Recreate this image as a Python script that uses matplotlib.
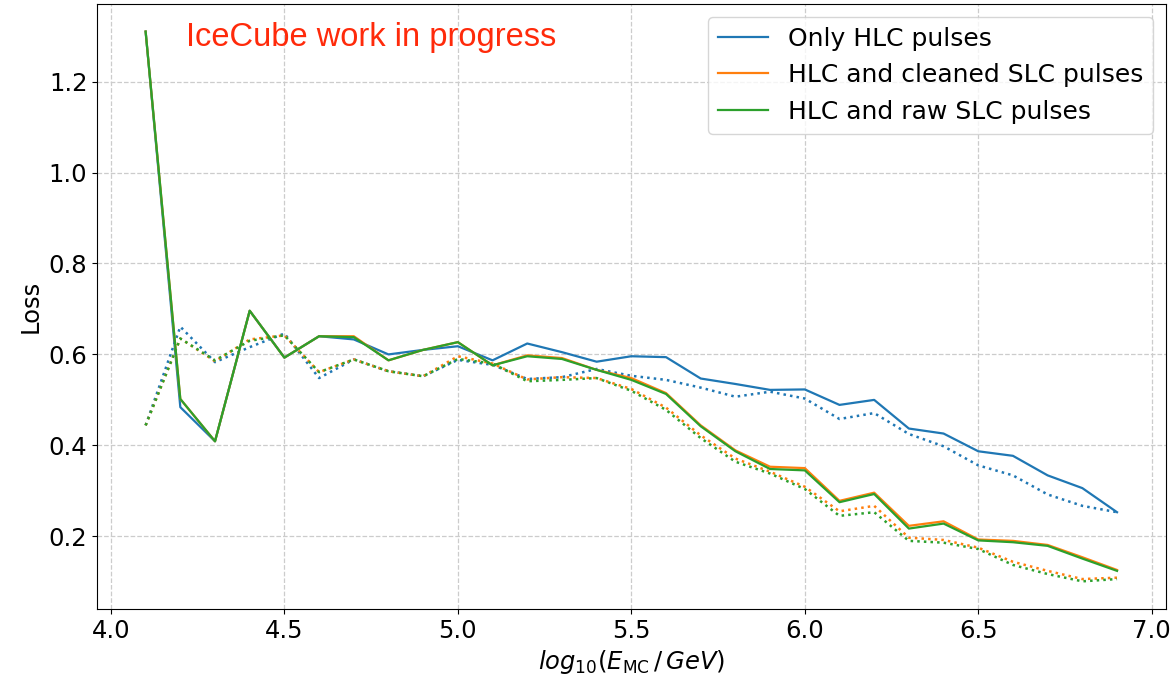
import numpy as np
import matplotlib.pyplot as plt

# energy bins, log10(E / GeV)
log_e = np.round(np.arange(4.1, 6.95, 0.1), 1)

# loss per bin, solid = validation, dotted = training
hlc_val = [1.31, 0.484, 0.409, 0.696, 0.593, 0.640, 0.633, 0.600, 0.610, 0.618,
           0.587, 0.624, 0.605, 0.584, 0.596, 0.594, 0.547, 0.535, 0.522, 0.523,
           0.489, 0.500, 0.437, 0.426, 0.387, 0.377, 0.334, 0.306, 0.253]
cleaned_val = [1.31, 0.502, 0.409, 0.696, 0.593, 0.640, 0.640, 0.587, 0.610, 0.627,
               0.576, 0.598, 0.592, 0.566, 0.548, 0.515, 0.444, 0.389, 0.353, 0.350,
               0.278, 0.296, 0.223, 0.233, 0.193, 0.190, 0.181, 0.154, 0.126]
raw_val = [1.31, 0.502, 0.409, 0.696, 0.593, 0.640, 0.638, 0.587, 0.610, 0.627,
           0.576, 0.596, 0.590, 0.566, 0.544, 0.513, 0.442, 0.387, 0.348, 0.345,
           0.275, 0.293, 0.217, 0.228, 0.191, 0.187, 0.179, 0.151, 0.124]

hlc_train = [0.444, 0.661, 0.583, 0.616, 0.646, 0.548, 0.589, 0.563, 0.552, 0.588,
             0.577, 0.546, 0.550, 0.568, 0.553, 0.544, 0.527, 0.507, 0.518, 0.503,
             0.458, 0.471, 0.425, 0.398, 0.356, 0.334, 0.292, 0.267, 0.253]
cleaned_train = [0.444, 0.635, 0.585, 0.633, 0.642, 0.561, 0.589, 0.563, 0.552, 0.596,
                 0.580, 0.545, 0.550, 0.548, 0.524, 0.483, 0.422, 0.371, 0.342, 0.309,
                 0.255, 0.267, 0.197, 0.192, 0.175, 0.144, 0.124, 0.106, 0.109]
raw_train = [0.444, 0.635, 0.587, 0.630, 0.642, 0.561, 0.589, 0.563, 0.552, 0.590,
             0.580, 0.541, 0.544, 0.548, 0.520, 0.478, 0.416, 0.364, 0.338, 0.304,
             0.245, 0.253, 0.190, 0.186, 0.172, 0.137, 0.117, 0.101, 0.106]

labels = ['Only HLC pulses', 'HLC and cleaned SLC pulses', 'HLC and raw SLC pulses']
colors = ['tab:blue', 'tab:orange', 'tab:green']

fig = plt.figure(figsize=(11.75, 6.81), dpi=100)
ax = fig.add_axes([0.0826, 0.106, 0.9094, 0.888])

for val, train, lab, c in zip([hlc_val, cleaned_val, raw_val],
                              [hlc_train, cleaned_train, raw_train], labels, colors):
    ax.plot(log_e, val, color=c, lw=1.6, label=lab)
    ax.plot(log_e, train, color=c, lw=1.8, ls=':')

ax.grid(True, ls='--', color='#cccccc', lw=0.9)
ax.tick_params(labelsize=17.5)
ax.set_xlabel(r'$log_{10}(E_{\mathrm{MC}}\,/\,GeV)$', fontsize=17.5)
ax.set_ylabel('Loss', fontsize=17.5)
ax.legend(loc='upper right', fontsize=18, handlelength=2.0)
ax.text(0.083, 0.945, 'IceCube work in progress', transform=ax.transAxes,
        color='#ff2a0a', fontsize=23.5, family='Liberation Sans', va='center')

fig.savefig('out.png')
